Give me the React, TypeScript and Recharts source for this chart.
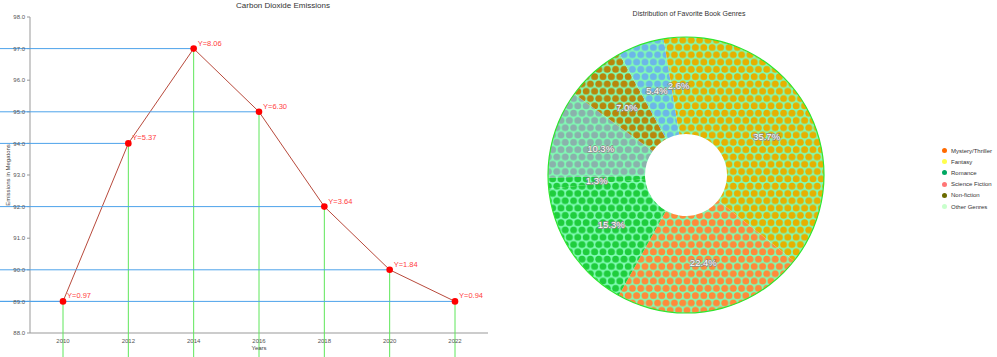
import { LineChart, Line, XAxis, YAxis, LabelList, PieChart, Pie, Cell, Legend } from "recharts";

const FONT = "'Liberation Sans', Arial, sans-serif";
const LINE_W = 500;
const H = 357;

// left: carbon dioxide emissions
const years = ["2010", "2012", "2014", "2016", "2018", "2020", "2022"];
const emissions = [0.97, 5.37, 8.06, 6.3, 3.64, 1.84, 0.94];
// grid level each point sits on in the picture
const plotLevels = [1, 6, 9, 7, 4, 2, 1];
const yTicks = [0, 1, 2, 3, 4, 5, 6, 7, 8, 9, 10];
const yTickLabels = ["88.0", "89.0", "90.0", "91.0", "92.0", "93.0", "94.0", "95.0", "96.0", "97.0", "98.0"];
const bandEdges = [0, 1, 2, 3, 4, 5, 6, 7];

// right: favorite book genres
const sliceValues = [35.7, 22.4, 15.3, 1.3, 10.3, 7.0, 5.4, 2.6];
const sliceDotColors = ["#e6b000", "#ff8a3a", "#1fcd3d", "#1fcd3d", "#8ab2ac", "#b8860b", "#6cb6e8", "#e6b000"];
const legendNames = ["Mystery/Thriller", "Fantasy", "Romance", "Science Fiction", "Non-fiction", "Other Genres"];
const legendColors = ["#ff6a00", "#ffff4d", "#00a862", "#ff7676", "#6b6b00", "#c8ffcc"];

const lineRows = years.map((year, i) => ({ year, level: plotLevels[i], emission: emissions[i] }));
const pieRows = sliceValues.map((value, i) => ({ name: `slice-${i}`, value }));
const ringRows = [{ name: "ring", value: 1 }];

const RADIAN = Math.PI / 180;

// eslint-disable-next-line @typescript-eslint/no-explicit-any
function GuideLines(props: any) {
  const { cx, cy } = props;
  if (cx == null || cy == null) return null;
  return (
    <g>
      <line x1={0} y1={cy} x2={cx} y2={cy} stroke="#4ea3ea" strokeWidth={1} />
      <line x1={cx} y1={cy} x2={cx} y2={H} stroke="#5ee65a" strokeWidth={1} />
    </g>
  );
}

// eslint-disable-next-line @typescript-eslint/no-explicit-any
function PointLabel(props: any) {
  const { x, y, value } = props;
  return (
    <text x={x + 4} y={y - 3} fill="#ff4040" fontSize={7.5} fontFamily={FONT}>
      {`Y=${Number(value).toFixed(2)}`}
    </text>
  );
}

// eslint-disable-next-line @typescript-eslint/no-explicit-any
function SliceLabel(props: any) {
  const { cx, cy, midAngle, innerRadius, outerRadius, percent } = props;
  const r = innerRadius + (outerRadius - innerRadius) / 2;
  const x = cx + r * Math.cos(-midAngle * RADIAN);
  const y = cy + r * Math.sin(-midAngle * RADIAN);
  return (
    <text
      x={x}
      y={y}
      fill="#fff"
      stroke="#8a8a8a"
      strokeWidth={1.3}
      paintOrder="stroke"
      fontSize={9.5}
      fontFamily={FONT}
      textAnchor="middle"
      dominantBaseline="central"
    >
      {`${(percent * 100).toFixed(1)}%`}
    </text>
  );
}

function GenreLegend() {
  return (
    <div style={{ fontFamily: FONT, fontSize: 6, color: "#333" }}>
      {legendNames.map((name, i) => (
        <div key={name} style={{ display: "flex", alignItems: "center", height: 11.2 }}>
          <span
            style={{ width: 5, height: 5, borderRadius: "50%", background: legendColors[i], marginRight: 4 }}
          />
          {name}
        </div>
      ))}
    </div>
  );
}

export default function App() {
  return (
    <div style={{ position: "absolute", left: 0, top: 0, width: 997, height: H, background: "#fff", fontFamily: FONT }}>
      <svg width={0} height={0} style={{ position: "absolute" }}>
        <defs>
          {sliceDotColors.map((c, i) => (
            <pattern key={i} id={`dots-${i}`} patternUnits="userSpaceOnUse" width={8.4} height={14.6}>
              <rect width={8.4} height={14.6} fill="#80fcb4" />
              <circle cx={4.2} cy={3.65} r={3.5} fill={c} />
              <circle cx={0} cy={10.95} r={3.5} fill={c} />
              <circle cx={8.4} cy={10.95} r={3.5} fill={c} />
            </pattern>
          ))}
        </defs>
      </svg>

      <div style={{ position: "absolute", left: 0, top: 0 }}>
        <div style={{ position: "absolute", left: 183, top: 1, width: 200, textAlign: "center", fontSize: 8, color: "#333" }}>
          Carbon Dioxide Emissions
        </div>
        <LineChart width={LINE_W} height={H} data={lineRows} margin={{ top: 17, right: 12, bottom: 0, left: 0 }}>
          <XAxis
            xAxisId="edges"
            type="number"
            dataKey="level"
            domain={[0, 7]}
            ticks={bandEdges}
            tick={false}
            axisLine={false}
            tickLine={{ stroke: "#999" }}
            tickSize={4}
            height={1}
          />
          <XAxis
            dataKey="year"
            tick={{ fontSize: 6, fill: "#555", fontFamily: FONT }}
            tickLine={false}
            axisLine={{ stroke: "#999" }}
            tickSize={4}
            tickMargin={2}
            padding={{ left: 33, right: 33 }}
            height={23}
            label={{ value: "Years", position: "insideBottom", offset: 6, fontSize: 6, fill: "#444", fontFamily: FONT }}
          />
          <YAxis
            type="number"
            domain={[0, 10]}
            ticks={yTicks}
            tickFormatter={(v: number) => yTickLabels[v]}
            tick={{ fontSize: 6, fill: "#555", fontFamily: FONT }}
            tickSize={3}
            tickLine={{ stroke: "#999" }}
            axisLine={{ stroke: "#999" }}
            width={30}
            label={{
              value: "Emissions in Megatons",
              angle: -90,
              position: "insideLeft",
              offset: 8,
              fontSize: 6,
              fill: "#444",
              fontFamily: FONT,
              style: { textAnchor: "middle" },
            }}
          />
          <Line dataKey="level" stroke="none" dot={<GuideLines />} activeDot={false} isAnimationActive={false} />
          <Line
            dataKey="level"
            stroke="#b84a3c"
            strokeWidth={1}
            dot={{ r: 3.3, fill: "#ff0000", stroke: "none" }}
            activeDot={false}
            isAnimationActive={false}
          >
            <LabelList dataKey="emission" content={<PointLabel />} />
          </Line>
        </LineChart>
      </div>

      <div style={{ position: "absolute", left: 540, top: 0 }}>
        <div style={{ position: "absolute", left: 49, top: 10, width: 200, textAlign: "center", fontSize: 7, color: "#333" }}>
          Distribution of Favorite Book Genres
        </div>
        <PieChart width={457} height={H} margin={{ top: 0, right: 0, bottom: 0, left: 0 }}>
          <Pie
            data={pieRows}
            dataKey="value"
            nameKey="name"
            cx={146}
            cy={175}
            innerRadius={41}
            outerRadius={138}
            startAngle={90}
            endAngle={-270}
            stroke="none"
            label={<SliceLabel />}
            labelLine={false}
            isAnimationActive={false}
          >
            {pieRows.map((row, i) => (
              <Cell key={row.name} fill={`url(#dots-${i})`} />
            ))}
          </Pie>
          <Pie
            data={ringRows}
            dataKey="value"
            cx={146}
            cy={175}
            innerRadius={137.4}
            outerRadius={138.6}
            startAngle={90}
            endAngle={-270}
            fill="#2ee62e"
            stroke="none"
            legendType="none"
            isAnimationActive={false}
          />
          <Legend
            content={<GenreLegend />}
            wrapperStyle={{ position: "absolute", left: 402, top: 145, width: 60, height: 70 }}
          />
        </PieChart>
      </div>
    </div>
  );
}
